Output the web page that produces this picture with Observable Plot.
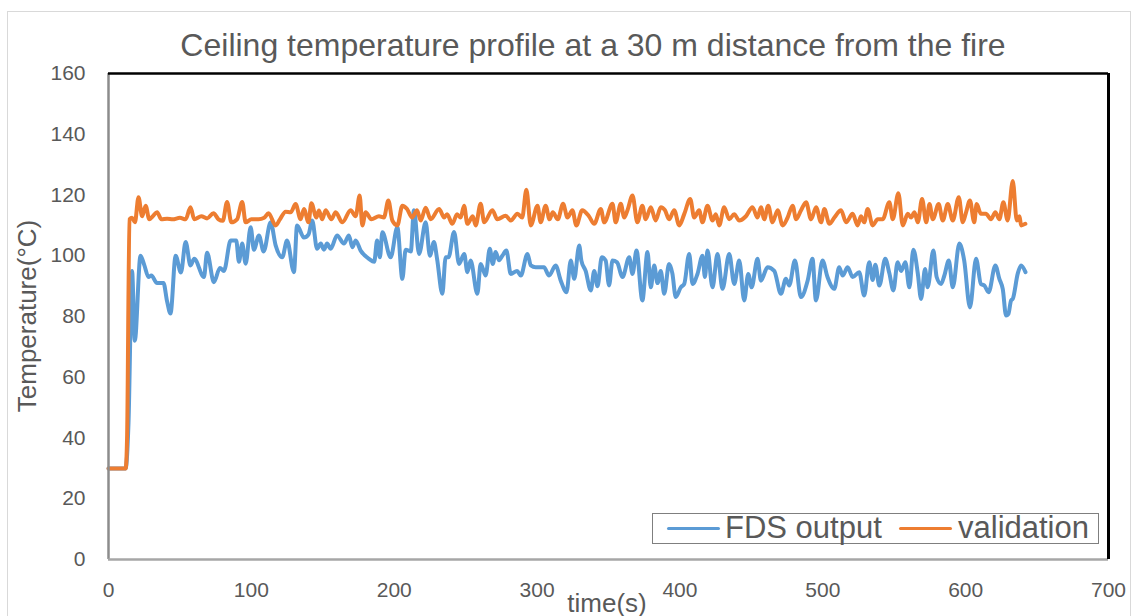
<!DOCTYPE html>
<html>
<head>
<meta charset="utf-8">
<script src="https://cdn.jsdelivr.net/npm/d3@7"></script>
<script src="https://cdn.jsdelivr.net/npm/@observablehq/plot@0.6"></script>
<style>
  html, body { margin: 0; padding: 0; background: #fff; overflow: hidden; }
  #wrap { position: relative; width: 1134px; height: 616px; font-family: "Liberation Sans", Arial, sans-serif; color: #595959; }
  #outer { position: absolute; left: 7px; top: 11px; width: 1124px; height: 640px; border: 1px solid #d9d9d9; box-sizing: border-box; }
  .lbl { position: absolute; line-height: 1; white-space: nowrap; }
  #chart { position: absolute; left: 0; top: 0; }
</style>
</head>
<body>
<div id="wrap">
  <div id="outer"></div>
  <div id="chart"></div>
  <div class="lbl" id="title" style="font-size:32px; left:593px; top:29px; transform:translateX(-50%);">Ceiling temperature profile at a 30 m distance from the fire</div>
  <div class="lbl" id="xlab" style="font-size:26px; left:607px; top:590px; transform:translateX(-50%);">time(s)</div>
  <div class="lbl" id="ylab" style="font-size:26px; left:27px; top:316px; transform:translate(-50%,-50%) rotate(-90deg);">Temperature(°C)</div>
  <div id="legend" style="position:absolute; left:652px; top:513px; width:447px; height:31px; border:1.5px solid #7f7f7f; box-sizing:border-box; background:#fff;"></div>
</div>
<script>
// ---- data ----
const fdsTime = [0,12,14,16.5,18.4,22.4,25,28,30,34,38.5,41,43.4,47,50.7,54,57.4,60,66.8,69,73.8,78,80.8,85.5,89.4,91.3,93.6,96,99.5,101.8,105.3,108.6,113.5,117,121.6,125,129.8,132,136.8,140,142.6,146,148.6,150.8,153,155.5,160,164.8,168.3,170.7,173,176.5,182.3,186,188,190,191.7,197.5,202.2,205.7,208,211.6,213.8,217.4,222,225,227.8,230,233.7,236,238,241.9,245.4,249,251.2,253.5,258.2,260.5,261.7,264,266.9,269,271,273.4,275.7,278.5,281.6,286,288.6,293.3,295.6,299,304.8,308.4,313,316.6,320.6,323.6,326,329.5,331,334,337.6,340,342.3,345.3,348,350.4,352.8,356,359.8,364.5,366.8,369.6,373.7,377.3,379.6,382,384.3,386.6,389,392.4,394.7,397.1,400.6,403,406.5,408.8,412.3,415.8,417.5,419.3,422.8,426.3,429.8,434.5,438,441.5,445,447.8,450.2,454.3,456.7,461.3,466,470.7,474.2,476.5,480.5,484.7,489.4,492.8,495.2,499.8,503.3,508,511.5,513.9,517.4,520.9,525.5,529,532.5,534.9,536.8,539.6,543.7,546.6,549.4,552.4,554.8,557.8,560.6,563.4,566.5,568.8,571.6,573.4,577.4,579.7,582.8,585.1,588.2,591,595.6,599,603,607.3,610.7,613.1,616.1,620.8,623.6,626,628.3,629.9,631.8,633,636.5,638.8,641.9];
const fdsTemp = [30,30,45,95,72,100,97,93,93.5,91,91,85,81,100,94.5,104.5,96.8,99,93,101,91.3,96,95,105,105,98,104,97.4,109.4,102,106.7,101.4,111,103.4,99.5,105,94.6,110,106,107,111.6,102.3,104,102,104,102.3,106.7,104,106.7,102.8,105,101.7,99,98,105,99.5,107.7,99.5,109.4,92.4,102,101.4,115,100.6,111,100,104.5,99,87.5,99.5,99.5,107.8,97.3,100.6,94.6,98.4,87.5,97.3,96.2,93.5,102.3,97.3,101.2,98.5,100,101.7,94,95,93.5,100.6,96.8,96.2,96.2,93.5,96.8,91.8,88,98.4,92.4,103.4,98.4,95,88.6,95,90,99.5,98.4,90.2,98.4,97.8,93,99.5,94,101.7,85.3,101.2,89.6,96.8,91,95,87.5,97.3,94.2,86.4,89.6,90.7,100.6,90.7,94,100,93,101.7,89.6,100.6,89.1,100.6,90.7,98.4,85.3,94,89.6,99,91.8,96.2,95,87.5,92.4,90.2,98.4,86.4,91.8,99,85.3,98.4,93,89.1,96.2,93.5,96.2,93,94.6,86.9,97.9,92,97,90.2,99,94.2,88.6,97.9,95,97.9,89.6,102,94.2,85.8,95.6,89.6,101.7,93,90.7,93.5,98.4,89.6,104,98.4,83,99,90.7,90.2,88,96.8,92.4,89,80.3,80.8,85.3,85.8,94.2,96.8,94.6];

const valTime = [0,12,13,14.7,16.5,18.5,21,23.5,26,28.5,31,34,37,41,45,50,54,57.4,60,65,69,73.5,77,80,83,86,90,93.6,96,100,105,109,112,117,120,124,127.5,131,134.5,136.8,140,142,145.5,147.3,149.6,152,156,159,163.7,169.5,173,175.8,177.7,180,184,189.3,192.8,195.9,198.7,202.2,205.7,209,212.5,216,218.5,222,225.5,231.4,235,237,240.7,244,246.5,248.9,251.2,255,257,260.5,263,268.7,272.2,278,281.6,286.3,289.6,292.5,295.6,300.3,302.5,306,308.7,311,314.5,318.2,321.3,324.7,327.5,331.6,336.3,340,344.6,347,352.8,355,358.6,361,363.3,366.8,370.2,373.7,376,379.6,383,386.6,389.5,392.4,396,399.5,403,407.2,410,413.4,415.8,419.3,422.8,425.1,427.5,431,434.5,438,441.5,446.2,450.8,454.3,456.7,459,461.8,464.8,468.4,471.9,475.4,478.9,481.3,484.8,488.3,491.8,495.3,498.8,501.1,504.6,508.1,512.8,516.3,520.9,524.4,526.7,529,531.4,534.9,538.4,541.9,546.6,549,552.9,556,559.5,561.8,564.2,566.5,569.5,572.4,574.7,577,581.1,584,587.5,591,595.2,598,600.3,603,606,607.7,610.7,614.2,617.7,620.8,623.6,626.4,629.4,633,635.8,637.7,638.8,641.8];
const valTemp = [30,30,40,112,112.5,111,119.3,113,116.5,112,113,114.3,112,112.2,112,112.5,112,116,112,113,112.3,114,112,111.5,117.7,111,112,117.7,111,112,112,112.5,114,110,112,114.5,114.3,117,112,115.4,111,117.3,112.6,114.9,112,115,112,114.3,111,115,113,119.8,110,114.3,112,113,112.6,118.2,111.6,110,116.5,115.4,112.6,115,111.6,115.8,112,115.4,112.6,113.7,110.5,113.7,112.6,116.5,110.5,113,110,117.1,111,115,112,113.2,111.6,113.8,112.6,121.7,110,116.5,111,116.5,112,114.3,112,117.1,112.6,115,110,115,113,110.5,115.4,111,117.1,111,117.1,112.6,115,119.8,111,116.5,112,116,111.6,116,115,112,115,110,113.7,118.7,112.6,115,111,116.5,111.6,113.7,110,116,112,113.7,111.6,113,116,112.6,116,112,116.5,111,115,110,112.6,116.5,112,115,117.6,112,116,111,115.4,110.5,112.6,115,111,113.8,110,113,111,115.4,110,112,112,117.6,112,120.6,110,113.8,112.6,114.3,111,118.7,111,117,112,117,111.6,117,111.6,119.3,111,114.3,118.2,111,117,113.8,113.8,112,114.3,112,117.6,111.6,124.6,111.6,113,110,110.5];

const xTicks = [0,100,200,300,400,500,600,700];
const yTicks = [0,20,40,60,80,100,120,140,160];
const seriesNames = ["FDS output", "validation"];
const seriesColors = ["#5B9BD5", "#ED7D31"];

const fds = fdsTime.map((t, i) => ({t, v: fdsTemp[i]}));
const val = valTime.map((t, i) => ({t, v: valTemp[i]}));

const chart = Plot.plot({
  width: 1134,
  height: 616,
  marginLeft: 108,
  marginRight: 26,
  marginTop: 73,
  marginBottom: 57,
  style: {fontFamily: '"Liberation Sans", Arial, sans-serif', fontSize: "21px", color: "#595959", background: "transparent"},
  x: {domain: [0, 700], ticks: xTicks, tickSize: 0, tickPadding: 23, label: null},
  y: {domain: [0, 160], ticks: yTicks, tickSize: 0, tickPadding: 23, label: null},
  marks: [
    Plot.line(fds, {x: "t", y: "v", stroke: seriesColors[0], strokeWidth: 4, curve: "monotone-x", strokeLinejoin: "round"}),
    Plot.line(val, {x: "t", y: "v", stroke: seriesColors[1], strokeWidth: 4, curve: "monotone-x", strokeLinejoin: "round"}),
    Plot.ruleX([0], {stroke: "#8c8c8c", strokeWidth: 2.5}),
    Plot.ruleY([0], {stroke: "#a6a6a6", strokeWidth: 2.5}),
    Plot.ruleY([160], {stroke: "#000", strokeWidth: 2.7}),
    Plot.ruleX([700], {stroke: "#000", strokeWidth: 3})
  ]
});
document.getElementById("chart").appendChild(chart);

// legend
const lg = document.getElementById("wrap");
const items = [
  {name: seriesNames[0], color: seriesColors[0], lineX: 667, textX: 725},
  {name: seriesNames[1], color: seriesColors[1], lineX: 899, textX: 958}
];
items.forEach(it => {
  const ln = document.createElement("div");
  ln.style.cssText = `position:absolute; left:${it.lineX}px; top:526.5px; width:53px; height:3.6px; border-radius:2px; background:${it.color};`;
  lg.appendChild(ln);
  const tx = document.createElement("div");
  tx.className = "lbl";
  tx.style.cssText = `font-size:31px; left:${it.textX}px; top:512px;`;
  tx.textContent = it.name;
  lg.appendChild(tx);
});
</script>
</body>
</html>
